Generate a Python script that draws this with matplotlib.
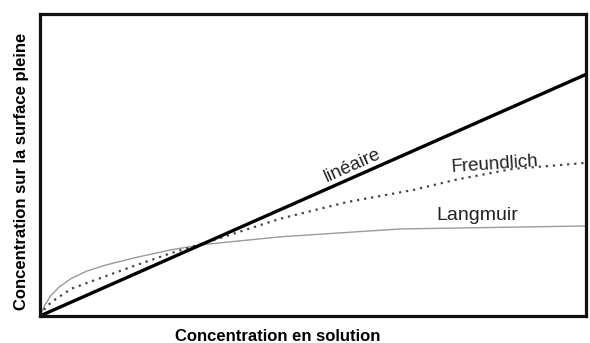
import matplotlib.pyplot as plt

plt.rcParams['font.family'] = ['Liberation Sans', 'DejaVu Sans']

# valeurs (fractions des axes)
lin_x = [0.0, 1.0]
lin_y = [0.0, 0.80]

freund_x = [0.0, 0.008, 0.020, 0.057, 0.119, 0.179, 0.240, 0.302, 0.44, 0.562, 0.683, 0.764, 0.866, 1.0]
freund_y = [0.0, 0.022, 0.045, 0.090, 0.131, 0.170, 0.208, 0.242, 0.322, 0.377, 0.417, 0.452, 0.487, 0.507]

lang_x = [0.0, 0.004, 0.010, 0.020, 0.035, 0.057, 0.085, 0.119, 0.179, 0.240, 0.302, 0.440, 0.659, 1.0]
lang_y = [0.0, 0.018, 0.040, 0.068, 0.096, 0.124, 0.148, 0.168, 0.195, 0.219, 0.237, 0.262, 0.288, 0.298]

fig = plt.figure(figsize=(5.9, 3.43), dpi=100)
ax = fig.add_axes([0.068, 0.079, 0.925, 0.88])

ax.plot(lang_x, lang_y, color='#9a9a9a', lw=1.0)
ax.plot(freund_x, freund_y, color='#444444', lw=1.6, linestyle=(0, (1, 2.2)))
ax.plot(lin_x, lin_y, color='black', lw=2.4)

ax.text(0.573, 0.497, 'linéaire', fontsize=13.5, rotation=24, ha='center', va='center', color='#222222')
ax.text(0.833, 0.503, 'Freundlich', fontsize=13.5, rotation=4, ha='center', va='center', color='#222222')
ax.text(0.802, 0.331, 'Langmuir', fontsize=14, ha='center', va='center', color='#222222')

ax.set_xlim(0, 1)
ax.set_ylim(0, 1)
ax.set_xticks([])
ax.set_yticks([])
for s in ax.spines.values():
    s.set_linewidth(2.3)
    s.set_color('#111111')

fig.text(0.47, 0.018, 'Concentration en solution', fontsize=12, fontweight='bold', ha='center', va='center')
fig.text(0.036, 0.50, 'Concentration sur la surface pleine', fontsize=12, fontweight='bold',
         rotation=90, ha='center', va='center')

fig.savefig('out.png', dpi=100)
